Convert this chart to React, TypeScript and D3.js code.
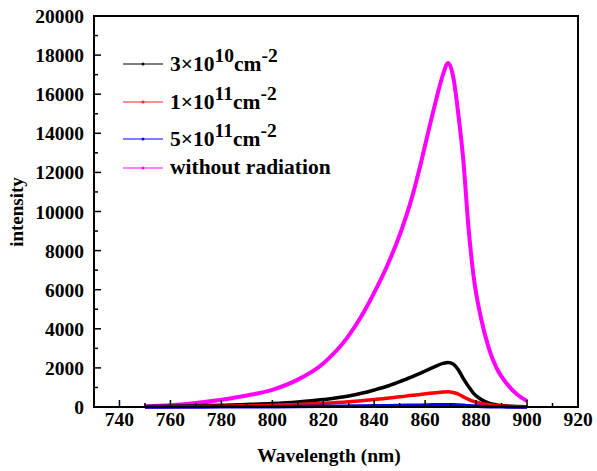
import React from 'react';
import { scaleLinear, line, curveMonotoneX, range } from 'd3';

// wavelength grid (nm)
const wavelength = [750, 760, 770, 780, 790, 800, 810, 820, 830, 835, 840, 845, 850, 855, 858, 861, 864, 867, 869, 871, 873, 875, 877, 879, 882, 885, 888, 892, 896, 900];

const dose3e10 = [20, 40, 60, 90, 130, 180, 260, 380, 560, 700, 870, 1060, 1300, 1550, 1720, 1900, 2080, 2230, 2280, 2200, 1900, 1450, 1050, 700, 380, 200, 110, 50, 25, 15];
const dose1e11 = [10, 15, 25, 40, 60, 90, 130, 190, 270, 320, 380, 450, 520, 600, 640, 690, 730, 770, 780, 740, 660, 520, 390, 290, 180, 110, 60, 30, 15, 10];
const dose5e11 = [0, 2, 5, 8, 12, 18, 25, 35, 45, 55, 60, 70, 80, 90, 95, 105, 110, 118, 120, 115, 105, 85, 65, 50, 30, 18, 10, 5, 2, 0];
const noRadiation = [30, 90, 200, 370, 590, 880, 1400, 2230, 3650, 4650, 5850, 7200, 8800, 10800, 12300, 13950, 15550, 17000, 17600, 16900, 15000, 12600, 9200, 6700, 4500, 3000, 2000, 1200, 650, 300];

const xTicks = [740, 760, 780, 800, 820, 840, 860, 880, 900, 920];
const yTicks = [0, 2000, 4000, 6000, 8000, 10000, 12000, 14000, 16000, 18000, 20000];

const series = [
  { name: 'noRad', values: noRadiation, color: '#ff00ff', width: 4 },
  { name: '3e10', values: dose3e10, color: '#000000', width: 3.5 },
  { name: '1e11', values: dose1e11, color: '#ff0000', width: 3.5 },
  { name: '5e11', values: dose5e11, color: '#0000ff', width: 3.5 },
];

const legend = [
  { color: '#000000', lead: '3×10', exp: '10', unit: 'cm', unitExp: '-2' },
  { color: '#ff2020', lead: '1×10', exp: '11', unit: 'cm', unitExp: '-2' },
  { color: '#0000ff', lead: '5×10', exp: '11', unit: 'cm', unitExp: '-2' },
  { color: '#ff00ff', lead: 'without radiation' },
];

const W = 597, H = 471;
const left = 94, right = 578, top = 16, bottom = 407;
const font = '"Liberation Serif", "Times New Roman", serif';

export default function App() {
  const x = scaleLinear().domain([730, 920]).range([left, right]);
  const y = scaleLinear().domain([0, 20000]).range([bottom, top]);

  const path = (vals: number[]) =>
    line<number>()
      .x((_, i) => x(wavelength[i]))
      .y(d => y(d))
      .curve(curveMonotoneX)(vals) || '';

  const legendY = [64, 102, 139, 168];

  return (
    <svg width={W} height={H} style={{ position: 'absolute', left: 0, top: 0, background: '#fff' }}
      fontFamily={font} fontWeight="bold">
      {/* data */}
      {series.map(s => (
        <path key={s.name} d={path(s.values)} fill="none" stroke={s.color} strokeWidth={s.width} strokeLinejoin="round" />
      ))}

      {/* ticks x */}
      {range(730, 921, 10).map(v => (
        <line key={'xt' + v} x1={x(v)} x2={x(v)} y1={bottom} y2={bottom - (v % 20 === 0 ? 7 : 4)} stroke="#000" strokeWidth={1.5} />
      ))}
      {/* ticks y */}
      {range(0, 20001, 1000).map(v => (
        <line key={'yt' + v} x1={left} x2={left + (v % 2000 === 0 ? 7 : 4)} y1={y(v)} y2={y(v)} stroke="#000" strokeWidth={1.5} />
      ))}

      <rect x={left} y={top} width={right - left} height={bottom - top} fill="none" stroke="#000" strokeWidth={2} />

      {xTicks.map(v => (
        <text key={'xl' + v} x={x(v)} y={426} fontSize={19.5} textAnchor="middle">{v}</text>
      ))}
      {yTicks.map(v => (
        <text key={'yl' + v} x={84} y={y(v) + 7} fontSize={19.5} textAnchor="end">{v}</text>
      ))}

      <text x={329} y={462} fontSize={19.5} textAnchor="middle">Wavelength (nm)</text>
      <text transform="translate(23,212) rotate(-90)" fontSize={19} textAnchor="middle">intensity</text>

      {legend.map((l, i) => (
        <g key={'lg' + i}>
          <line x1={123} x2={163} y1={legendY[i]} y2={legendY[i]} stroke={l.color} strokeWidth={1.2} />
          <circle cx={143} cy={legendY[i]} r={1.5} fill={l.color} />
          {l.exp ? (
            <text x={170} y={legendY[i] + 7} fontSize={21.5}>
              {l.lead}
              <tspan dy={-9} fontSize={19.5}>{l.exp}</tspan>
              <tspan dy={9} fontSize={21.5}>{l.unit}</tspan>
              <tspan dy={-9} fontSize={19.5}>{l.unitExp}</tspan>
            </text>
          ) : (
            <text x={170} y={legendY[i] + 6} fontSize={21.5}>{l.lead}</text>
          )}
        </g>
      ))}
    </svg>
  );
}
